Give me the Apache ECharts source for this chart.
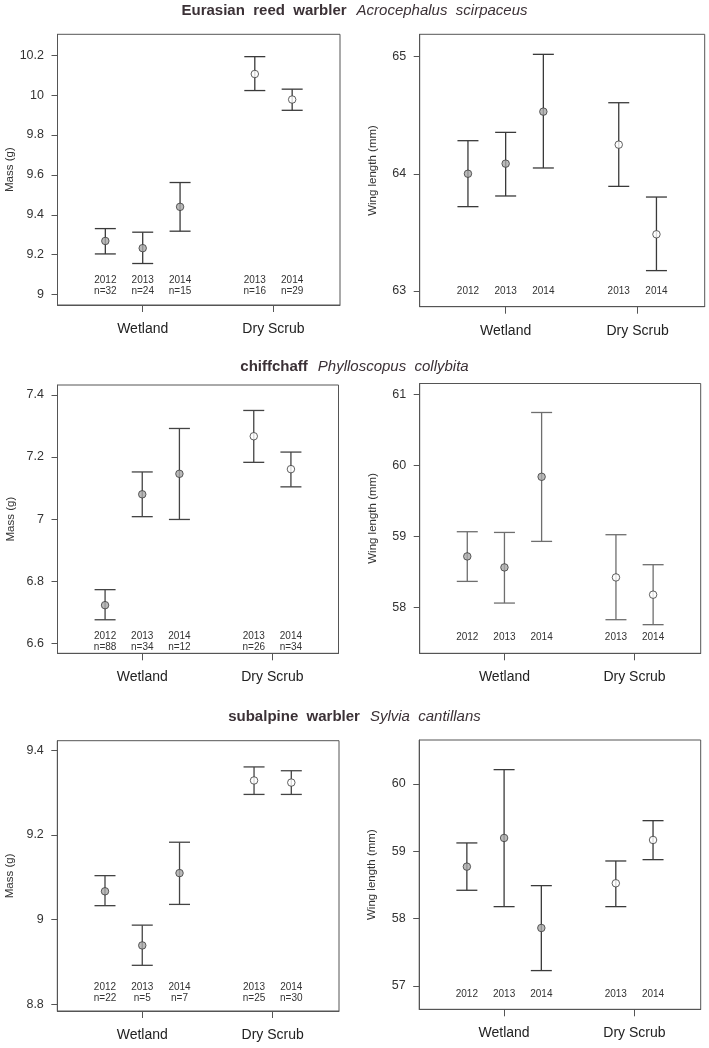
<!DOCTYPE html>
<html>
<head>
<meta charset="utf-8">
<script src="https://cdn.jsdelivr.net/npm/echarts@6/dist/echarts.min.js"></script>
<style>
html,body{margin:0;padding:0;background:#fff;}
#chart{width:709px;height:1048px;}
</style>
</head>
<body>
<div id="chart"></div>
<script>
// ---------- data ----------
const xPositions = [1, 2, 3, 5, 6];
const years = ['2012', '2013', '2014', '2013', '2014'];
const habitats = ['Wetland', 'Dry Scrub'];
const habitatPos = [2, 5.5];
const habitatOfPoint = [0, 0, 0, 1, 1];

// Eurasian reed warbler
const reedMassMean = [9.269, 9.233, 9.440, 10.106, 9.978];
const reedMassLow  = [9.204, 9.156, 9.318, 10.023, 9.924];
const reedMassHigh = [9.331, 9.313, 9.562, 10.193, 10.030];
const reedN = [32, 24, 15, 16, 29];
const reedMassTicks = [9, 9.2, 9.4, 9.6, 9.8, 10, 10.2];
const reedWingMean = [64.001, 64.087, 64.531, 64.249, 63.484];
const reedWingLow  = [63.720, 63.811, 64.050, 63.893, 63.174];
const reedWingHigh = [64.283, 64.354, 65.020, 64.607, 63.802];
const reedWingTicks = [63, 64, 65];

// chiffchaff
const chiffMassMean = [6.723, 7.080, 7.146, 7.267, 7.161];
const chiffMassLow  = [6.676, 7.008, 6.999, 7.183, 7.104];
const chiffMassHigh = [6.773, 7.152, 7.292, 7.350, 7.216];
const chiffN = [88, 34, 12, 26, 34];
const chiffMassTicks = [6.6, 6.8, 7, 7.2, 7.4];
const chiffWingMean = [58.717, 58.562, 59.837, 58.421, 58.178];
const chiffWingLow  = [58.365, 58.060, 58.928, 57.826, 57.756];
const chiffWingHigh = [59.064, 59.054, 60.742, 59.022, 58.600];
const chiffWingTicks = [58, 59, 60, 61];

// subalpine warbler
const subMassMean = [9.067, 8.939, 9.110, 9.329, 9.324];
const subMassLow  = [9.033, 8.892, 9.036, 9.296, 9.296];
const subMassHigh = [9.104, 8.987, 9.183, 9.361, 9.352];
const subN = [22, 5, 7, 25, 30];
const subMassTicks = [8.8, 9, 9.2, 9.4];
const subWingMean = [58.772, 59.198, 57.861, 58.525, 59.168];
const subWingLow  = [58.421, 58.178, 57.228, 58.178, 58.876];
const subWingHigh = [59.124, 60.213, 58.490, 58.856, 59.455];
const subWingTicks = [57, 58, 59, 60];

const titles = [
  ['Eurasian  reed  warbler', 'Acrocephalus  scirpaceus'],
  ['chiffchaff', 'Phylloscopus  collybita'],
  ['subalpine  warbler', 'Sylvia  cantillans']
];

// ---------- layout / panels ----------
const FONT = '"Liberation Sans", Arial, sans-serif';
const panels = [
  {grid:{left:57.5, top:34.3, width:282.5, height:270.7}, ymin:8.948, ymax:10.305, ticks:reedMassTicks,
   mean:reedMassMean, low:reedMassLow, high:reedMassHigh, n:reedN, name:'Mass (g)', yearOff:25, nOff:14, bar:'#3a3a3a'},
  {grid:{left:419.7, top:34.3, width:285, height:272.4}, ymin:62.866, ymax:65.191, ticks:reedWingTicks,
   mean:reedWingMean, low:reedWingLow, high:reedWingHigh, n:null, name:'Wing length (mm)', yearOff:15, bar:'#3a3a3a'},
  {grid:{left:57.5, top:385, width:281, height:268.3}, ymin:6.568, ymax:7.432, ticks:chiffMassTicks,
   mean:chiffMassMean, low:chiffMassLow, high:chiffMassHigh, n:chiffN, name:'Mass (g)', yearOff:17, nOff:6.5, bar:'#444'},
  {grid:{left:419.7, top:383.5, width:281, height:269.8}, ymin:57.353, ymax:61.15, ticks:chiffWingTicks,
   mean:chiffWingMean, low:chiffWingLow, high:chiffWingHigh, n:null, name:'Wing length (mm)', yearOff:16.5, bar:'#6e6e6e'},
  {grid:{left:57.3, top:740.7, width:281.7, height:270.3}, ymin:8.784, ymax:9.423, ticks:subMassTicks,
   mean:subMassMean, low:subMassLow, high:subMassHigh, n:subN, name:'Mass (g)', yearOff:23.5, nOff:12.5, bar:'#444'},
  {grid:{left:419.2, top:740, width:281.5, height:269.3}, ymin:56.653, ymax:60.653, ticks:subWingTicks,
   mean:subWingMean, low:subWingLow, high:subWingHigh, n:null, name:'Wing length (mm)', yearOff:15, bar:'#3a3a3a'}
];

const grids = [], xAxes = [], yAxes = [], series = [];
panels.forEach((p, i) => {
  grids.push(Object.assign({show:true, borderColor:'#555', borderWidth:1, backgroundColor:'transparent', containLabel:false}, p.grid));
  xAxes.push({
    type:'value', gridIndex:i, min:-0.28, max:7.28,
    splitLine:{show:false},
    axisLine:{show:true, onZero:false, lineStyle:{color:'#555', width:1}},
    axisTick:{show:true, customValues:habitatPos, length:7, lineStyle:{color:'#555'}},
    axisLabel:{show:true, customValues:habitatPos, margin:17, fontSize:14, color:'#222', fontFamily:FONT,
      formatter:(v)=>{ const k = habitatPos.indexOf(v); return k>=0 ? habitats[k] : ''; }}
  });
  yAxes.push({
    type:'value', gridIndex:i, min:p.ymin, max:p.ymax,
    splitLine:{show:false},
    axisLine:{show:true, onZero:false, lineStyle:{color:'#555', width:1}},
    axisTick:{show:true, customValues:p.ticks, length:6, lineStyle:{color:'#555'}},
    axisLabel:{show:true, customValues:p.ticks, margin:13.5, fontSize:12.5, color:'#333', fontFamily:FONT,
      formatter:(v)=>String(v)},
    name:p.name, nameLocation:'middle', nameGap:41, nameRotate:90,
    nameTextStyle:{fontSize:11.5, color:'#333', fontFamily:FONT}
  });
  // error bars
  const barData = xPositions.map((x, k) => [x, p.low[k], p.high[k]]);
  series.push({
    type:'custom', xAxisIndex:i, yAxisIndex:i, data:barData, silent:true, z:2,
    renderItem:(params, api) => {
      const x = api.value(0);
      const lo = api.coord([x, api.value(1)]);
      const hi = api.coord([x, api.value(2)]);
      const hw = 10.5;
      const st = {stroke:p.bar, lineWidth:1.3};
      return {type:'group', children:[
        {type:'line', shape:{x1:lo[0], y1:lo[1], x2:hi[0], y2:hi[1]}, style:st},
        {type:'line', shape:{x1:lo[0]-hw, y1:lo[1], x2:lo[0]+hw, y2:lo[1]}, style:st},
        {type:'line', shape:{x1:hi[0]-hw, y1:hi[1], x2:hi[0]+hw, y2:hi[1]}, style:st}
      ]};
    }
  });
  // points
  series.push({
    type:'scatter', xAxisIndex:i, yAxisIndex:i, symbol:'circle', symbolSize:7.5, z:3, silent:true,
    data:xPositions.map((x, k) => ({value:[x, p.mean[k]],
      itemStyle:{color: habitatOfPoint[k] === 0 ? '#a9a9a9' : '#ffffff', borderColor:'#3a3a3a', borderWidth:1}}))
  });
  // year / n labels
  const labData = xPositions.map((x, k) => [x, k]);
  series.push({
    type:'custom', xAxisIndex:i, yAxisIndex:i, data:labData, silent:true, z:4,
    renderItem:(params, api) => {
      const x = api.value(0), k = api.value(1);
      const cs = params.coordSys;
      const px = api.coord([x, p.ymin])[0];
      const bottom = cs.y + cs.height;
      const children = [{type:'text', x:px, y:bottom - p.yearOff,
        style:{text:years[k], textAlign:'center', textVerticalAlign:'middle', fontSize:10, fill:'#333', fontFamily:FONT}}];
      if (p.n) children.push({type:'text', x:px, y:bottom - p.nOff,
        style:{text:'n=' + p.n[k], textAlign:'center', textVerticalAlign:'middle', fontSize:10, fill:'#333', fontFamily:FONT}});
      return {type:'group', children};
    }
  });
});

const titleTops = [1.5, 358, 708];
const titleComps = titles.map((t, i) => ({
  text:'{b|' + t[0] + '}  {i|' + t[1] + '}',
  left:'center', top:titleTops[i], padding:0,
  textStyle:{fontWeight:'normal', rich:{
    b:{fontSize:15, fontWeight:'bold', color:'#3b3136', fontFamily:FONT},
    i:{fontSize:15, fontWeight:'normal', fontStyle:'italic', color:'#3b3136', fontFamily:FONT}
  }}
}));

const chart = echarts.init(document.getElementById('chart'), null, {renderer:'canvas'});
chart.setOption({
  animation:false,
  backgroundColor:'#fff',
  title:titleComps,
  grid:grids, xAxis:xAxes, yAxis:yAxes, series:series
});
</script>
</body>
</html>
